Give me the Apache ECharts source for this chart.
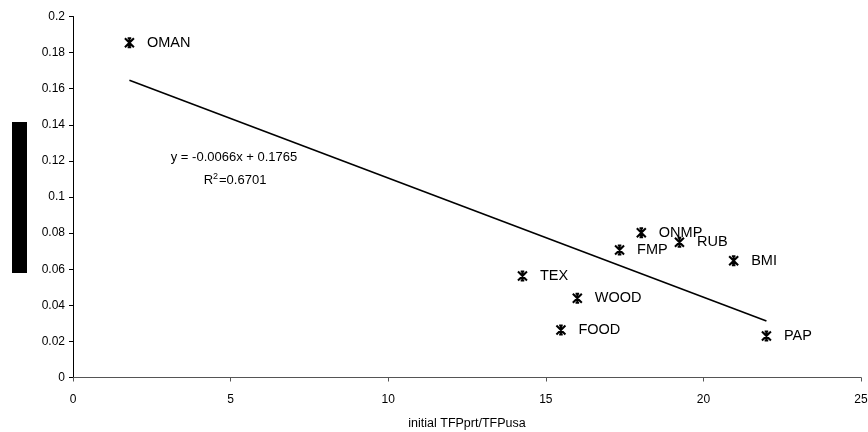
<!DOCTYPE html>
<html>
<head>
<meta charset="utf-8">
<script src="https://cdn.jsdelivr.net/npm/echarts@6/dist/echarts.min.js"></script>
<style>
  html, body { margin: 0; padding: 0; background: #fff; }
  #chart { width: 868px; height: 432px; }
</style>
</head>
<body>
<div id="chart"></div>
<script>
// sector labels and their values (x = initial TFPprt/TFPusa, y = growth)
const sectors = ['OMAN', 'TEX', 'WOOD', 'FOOD', 'FMP', 'ONMP', 'RUB', 'BMI', 'PAP']
const xVals = [1.79, 14.26, 16.0, 15.48, 17.34, 18.03, 19.24, 20.96, 22.0]
const yVals = [0.1855, 0.0562, 0.0439, 0.0263, 0.0706, 0.0802, 0.0749, 0.0647, 0.023]

// trend line from the equation printed on the chart
const slope = -0.0066
const intercept = 0.1765
const rSquared = '0.6701'

const xTicks = { min: 0, max: 25, interval: 5 }
const yTicks = { min: 0, max: 0.2, interval: 0.02 }

const chart = echarts.init(document.getElementById('chart'))

const xMin = Math.min(...xVals)
const xMax = Math.max(...xVals)
const trend = [
  [xMin, slope * xMin + intercept],
  [xMax, slope * xMax + intercept]
]

const font = 'Liberation Sans, Arial, sans-serif'

const option = {
  animation: false,
  grid: {
    left: 73,
    right: 7,
    top: 16.5,
    bottom: 54.5,
    outerBoundsMode: 'none'
  },
  xAxis: {
    type: 'value',
    min: xTicks.min,
    max: xTicks.max,
    interval: xTicks.interval,
    name: 'initial TFPprt/TFPusa',
    nameLocation: 'middle',
    nameGap: 40,
    nameTextStyle: { color: '#000', fontSize: 12.5, fontFamily: font },
    splitLine: { show: false },
    axisLine: { onZero: false, lineStyle: { color: '#555', width: 1 } },
    axisTick: { show: true, length: 4, lineStyle: { color: '#555' } },
    axisLabel: { color: '#000', fontSize: 12, fontFamily: font, margin: 16 }
  },
  yAxis: {
    type: 'value',
    min: yTicks.min,
    max: yTicks.max,
    interval: yTicks.interval,
    splitLine: { show: false },
    axisLine: { show: true, onZero: false, lineStyle: { color: '#000', width: 1 } },
    axisTick: { show: true, length: 4, lineStyle: { color: '#000' } },
    axisLabel: { color: '#000', fontSize: 12, fontFamily: font, margin: 8 }
  },
  series: [
    {
      type: 'scatter',
      symbol: 'path://M0,0L10,10M10,0L0,10M5,0L5,10M3,0L7,0M3,10L7,10',
      symbolSize: 9,
      itemStyle: { color: 'transparent', borderColor: '#000', borderWidth: 2, opacity: 1 },
      label: {
        show: true,
        position: 'right',
        distance: 12,
        color: '#000',
        fontSize: 14.5,
        fontFamily: font,
        formatter: p => sectors[p.dataIndex]
      },
      data: xVals.map((x, i) => [x, yVals[i]]),
      z: 3
    },
    {
      type: 'line',
      symbol: 'none',
      lineStyle: { color: '#000', width: 1.6 },
      data: trend,
      z: 2
    }
  ],
  graphic: [
    {
      type: 'rect',
      shape: { x: 12, y: 122, width: 15, height: 151 },
      style: { fill: '#000' }
    },
    {
      type: 'text',
      x: 234,
      y: 157,
      style: {
        text: 'y = -0.0066x + 0.1765',
        fill: '#000',
        font: '13px ' + font,
        align: 'center',
        verticalAlign: 'middle'
      }
    },
    {
      type: 'text',
      x: 235,
      y: 180,
      style: {
        text: '{r|R}{s|2}{r|=' + rSquared + '}',
        align: 'center',
        verticalAlign: 'middle',
        rich: {
          r: { fill: '#000', fontSize: 13, fontFamily: font },
          s: { fill: '#000', fontSize: 9, fontFamily: font, verticalAlign: 'top', padding: [0, 1, 7, 0] }
        }
      }
    }
  ]
}

chart.setOption(option)
</script>
</body>
</html>
